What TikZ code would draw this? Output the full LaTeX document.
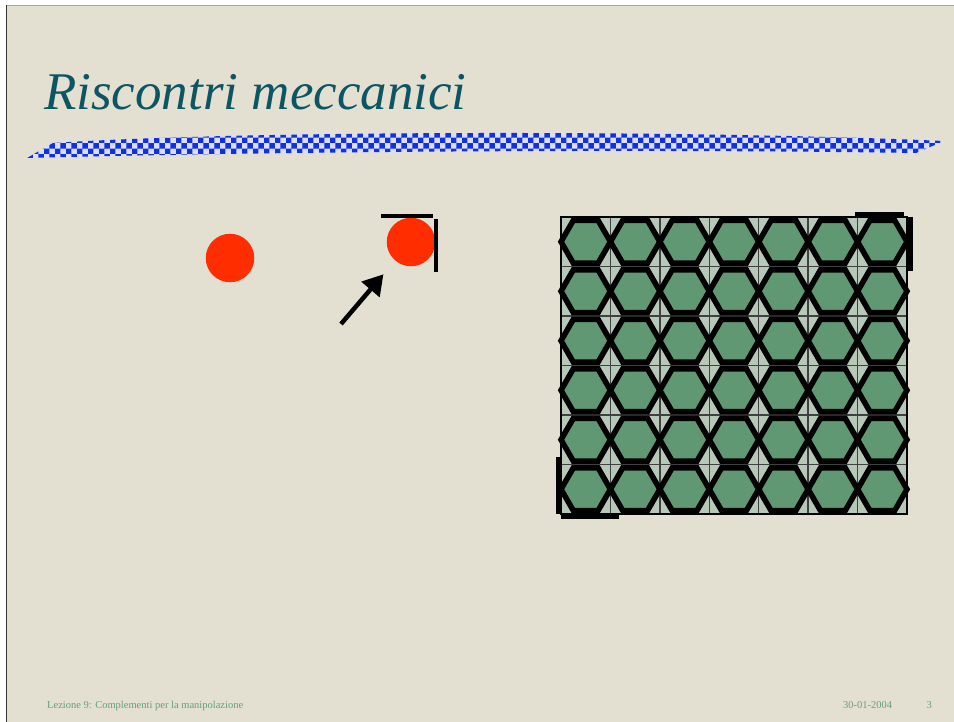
\documentclass[tikz,border=0pt]{standalone}
\usepackage{fontspec}
\setmainfont{Liberation Serif}
\usepackage{xcolor}
\usepackage{tikz}
\usetikzlibrary{arrows.meta,patterns}

\definecolor{slideBack}{HTML}{E3E0D2}
\definecolor{titleTeal}{HTML}{0C5562}
\definecolor{footGreen}{HTML}{64A078}
\definecolor{ballRed}{HTML}{FF2D00}
\definecolor{cellGray}{HTML}{B7C8B9}
\definecolor{hexGreen}{HTML}{609874}
\definecolor{bandBlue}{HTML}{1030E6}
\definecolor{bandLight}{HTML}{DCDFF4}

\begin{document}
\begin{tikzpicture}[x=1pt,y=-1pt, ball/.style={circle,fill=ballRed,inner sep=0,minimum size=48.5pt}, stopper/.style={black,line width=4.5pt}, pusher/.style={-{Triangle[length=20pt,width=23pt]},black,line width=4.5pt}, hexcell/.style={fill=hexGreen,draw=black,line width=5.5pt,line join=miter}, foot/.style={footGreen,font=\fontsize{10.5}{12}\selectfont,inner sep=0}]

  \useasboundingbox (0,0) rectangle (954,722);
  \fill[white] (0,0) rectangle (954,722);
  \fill[slideBack] (6,5) rectangle (954,722);
  \draw[gray!70,line width=1.5pt] (6,5.5) -- (954,5.5);
  \draw[black!80,line width=1.5pt] (6.5,5) -- (6.5,722);

  \node[titleTeal,anchor=base west,inner sep=0,font=\fontsize{53}{60}\selectfont\itshape] (slideTitle) at (44,110) {Riscontri meccanici};

  \fill[bandLight] (27,158) -- (53,143) .. controls (250,130) and (700,130) .. (944,141) -- (916,153) .. controls (650,149) and (300,151) .. cycle;
  \fill[pattern=checkerboard,pattern color=bandBlue] (27,158) -- (53,143) .. controls (250,130) and (700,130) .. (944,141) -- (916,153) .. controls (650,149) and (300,151) .. cycle;

  \node[ball] (ballFree) at (230,258) {};
  \node[ball] (ballStop) at (411,242) {};
  \coordinate (arrowTail) at (341,324);
  \draw[stopper,line width=3.5pt] (381,216) -- (433,216);
  \draw[stopper,line width=3.5pt] (436,219) -- (436,272);
  \draw[pusher,shorten >=18pt] (arrowTail) -- (ballStop);

  \fill[cellGray] (561,217) rectangle (907,514);
  \foreach \col in {1,...,6}
    \draw[black!75,line width=1.5pt] ({561+49.43*\col},217) -- ({561+49.43*\col},514);
  \foreach \row in {1,...,5}
    \draw[black!75,line width=1.5pt] (561,{217+49.5*\row}) -- (907,{217+49.5*\row});
  \draw[black,line width=2pt] (561,217) rectangle (907,514);
  \foreach \col in {0,...,6}
    \foreach \row in {0,...,5}
      \draw[hexcell] ({585.71+49.43*\col},{241.75+49.5*\row}) +(-24.71,0) -- +(-12.36,-21.4) -- +(12.36,-21.4) -- +(24.71,0) -- +(12.36,21.4) -- +(-12.36,21.4) -- cycle;

  \draw[stopper] (855,214) -- (904,214);
  \draw[stopper,line width=5pt] (910,217) -- (910,271);
  \draw[stopper] (558.5,457) -- (558.5,514);
  \draw[stopper] (561,517) -- (619,517);

  \node[foot,anchor=base west] (footLesson) at (47,708) {Lezione 9: Complementi per la manipolazione};
  \node[foot,anchor=base west] (footDate) at (843,708) {30-01-2004};
  \node[foot,anchor=base west] (footPage) at (926.5,708) {3};
\end{tikzpicture}
\end{document}
